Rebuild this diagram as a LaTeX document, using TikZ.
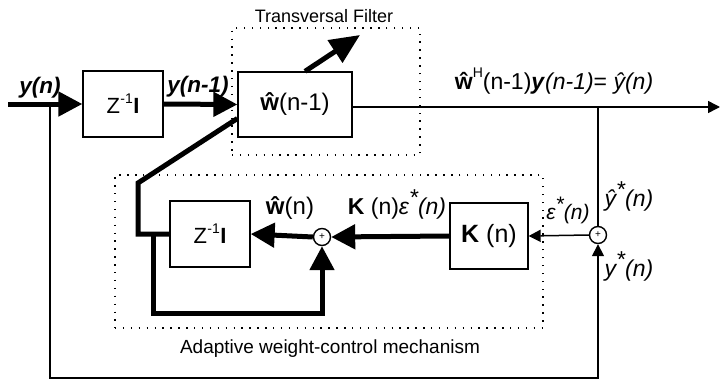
\documentclass[tikz,border=0pt]{standalone}
\usepackage{fontspec}
\setmainfont{Liberation Sans}
\usetikzlibrary{arrows.meta,calc}
\newcommand{\zinv}{Z\kern0.3pt\raisebox{10pt}{\fontsize{14}{14}\selectfont -1}\kern0.5pt\textbf{I}}
\begin{document}
\begin{tikzpicture}[x=1pt,y=-1pt,
  blk/.style={draw,line width=1.3pt,inner sep=0pt,font=\fontsize{24}{25}\selectfont},
  sumc/.style={draw,circle,line width=1.4pt,inner sep=0pt,minimum size=17pt,font=\fontsize{10}{10}\selectfont},
  thk/.style={line width=5pt,line join=miter},
  thn/.style={line width=1.5pt},
  bigarr/.style={-{Triangle[length=24pt,width=24pt]}},
  hugearr/.style={-{Triangle[length=30pt,width=26pt]}},
  smlarr/.style={-{Triangle[length=12pt,width=12pt]}},
  dotbox/.style={draw,line width=1.8pt,dash pattern=on 1.4pt off 6.5pt,inner sep=0pt},
  lbl/.style={inner sep=0pt,anchor=base,font=\fontsize{23}{24}\selectfont},
  bilbl/.style={lbl,font=\fontsize{22.5}{24}\selectfont\bfseries\itshape},
  captxt/.style={inner sep=0pt,anchor=base,font=\fontsize{18}{19}\selectfont}]
\useasboundingbox (0,0) rectangle (720,380);
\fill[white] (0,0) rectangle (720,380);
% dotted frames
\node[dotbox,minimum width=188pt,minimum height=127pt] (tf) at (326,91.5) {};
\node[dotbox,minimum width=428pt,minimum height=153pt] (am) at (329,251.5) {};
\node[captxt] (tfl) at (324,22) {Transversal Filter};
\node[captxt,font=\fontsize{19}{20}\selectfont] (aml) at (330,353) {Adaptive weight-control mechanism};
% blocks
\node[blk,minimum width=80pt,minimum height=66pt,font=\fontsize{22}{23}\selectfont] (z1) at (123,104) {\zinv};
\node[blk,minimum width=114pt,minimum height=65pt] (w) at (295,104.5) {\textbf{ŵ}(n-1)};
\node[blk,minimum width=80pt,minimum height=66pt,font=\fontsize{22}{23}\selectfont] (z2) at (210,234) {\zinv};
\node[blk,minimum width=78pt,minimum height=66pt,font=\fontsize{25}{26}\selectfont] (k) at (489,236) {\textbf{K} (n)};
\node[sumc] (s1) at (322,237) {+};
\node[sumc] (s2) at (598,235) {+};
% coordinates
\coordinate (in) at (8,104);
\coordinate (j) at (50,104);
\coordinate (bl) at (50,378);
\coordinate (out) at (720,107);
\coordinate (tap) at (598,107);
\coordinate (fa) at (138,234);
\coordinate (fb) at (138,183);
\coordinate (lj) at (153,234);
\coordinate (lb) at (153,313);
\coordinate (tip) at (360,35);
% main path
\draw[thk,bigarr] (in) -- (z1.west);
\draw[thk,bigarr] (z1.east) -- (w.west);
\draw[thn,smlarr] (w.east |- out) -- (out);
\draw[thn] (tap) -- (s2.north);
\draw[thn,smlarr] (j) -- (bl) -| (s2.south);
\draw[thn,smlarr] (s2.west) -- (k.east);
\draw[thk,bigarr] (k.west) -- (s1.east);
\draw[thk,bigarr] (s1.west) -- (z2.east);
\draw[thk] (z2.west) -- (fa) -- (fb) -- ($(w.west)+(0,14)$);
\draw[thk,bigarr] (lj) -- (lb) -| (s1.south);
\draw[thk,hugearr] ($(w.north)+(10,0)$) -- (tip);
% labels
\node[bilbl] (ly) at (40,93) {y(n)};
\node[bilbl] (ly1) at (198,92) {y(n-1)};
\node[lbl] (lo) at (554,89) {\textbf{ŵ}\raisebox{0.5em}{\fontsize{14}{14}\selectfont H}(n-1)\textbf{\textit{y}}\textit{(n-1)}= \textit{ŷ(n)}};
\node[lbl,font=\fontsize{24}{25}\selectfont] (lwn) at (290,214) {\textbf{ŵ}(n)};
\node[lbl] (lke) at (397,214) {\textbf{K} (n)\textit{ε\raisebox{0.35em}{*}(n)}};
\node[lbl,font=\fontsize{21}{22}\selectfont] (le) at (568,219) {\textit{ε\raisebox{0.35em}{*}(n)}};
\node[lbl] (lyh) at (629,206) {\textit{ŷ\raisebox{0.35em}{*}(n)}};
\node[lbl] (lys) at (629,276) {\textit{y\raisebox{0.35em}{*}(n)}};
\end{tikzpicture}
\end{document}
